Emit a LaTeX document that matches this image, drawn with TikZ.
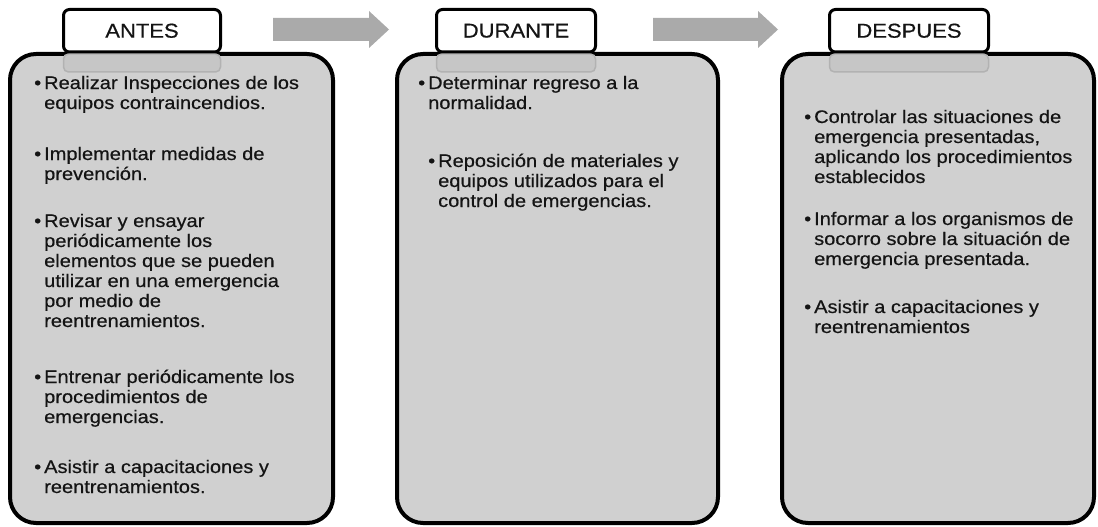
\documentclass[tikz,border=0pt]{standalone}
\usepackage{fontspec}
\setmainfont{Liberation Sans}[FakeStretch=1.1,FakeBold=0.5]
\definecolor{boxgray}{HTML}{D0D0D0}
\definecolor{arrowgray}{HTML}{AAAAAA}
\definecolor{tabshadefill}{HTML}{C6C6C6}
\definecolor{tabedge}{HTML}{B2B2B2}
\definecolor{txt}{HTML}{141414}
\newcommand{\bodyfont}{\fontsize{18.2}{20}\selectfont}
\newcommand{\titlefont}{\fontsize{20}{22}\selectfont}
\newcommand{\itm}[1]{\begin{tabular}[t]{@{}l@{}}\llap{\textbullet\hspace{3pt}}#1\end{tabular}}
\begin{document}
\begin{tikzpicture}[x=1pt,y=-1pt,
  phasebox/.style={draw=black,line width=4pt,fill=boxgray,rounded corners=26pt,inner sep=0pt},
  tabbox/.style={draw=black,line width=3pt,fill=white,rounded corners=6pt,inner sep=0pt,font=\titlefont,text=txt},
  tabshade/.style={draw=tabedge,line width=1.5pt,fill=tabshadefill,rounded corners=5pt,inner sep=0pt},
  flowarrow/.style={fill=arrowgray},
  itemtext/.style={anchor=base west,inner sep=0pt,font=\bodyfont,text=txt}]
\useasboundingbox (0,0) rectangle (1098,527);
% boxes
\node[phasebox,minimum width=323pt,minimum height=469pt] (b1) at (171.5,288.5) {};
\node[phasebox,minimum width=321pt,minimum height=469pt] (b2) at (557.5,288.5) {};
\node[phasebox,minimum width=312pt,minimum height=469pt] (b3) at (938,288.5) {};
% tab shades inside boxes
\node[tabshade,minimum width=157pt,minimum height=18pt] (s1) at (142,63) {};
\node[tabshade,minimum width=159pt,minimum height=18pt] (s2) at (516,63) {};
\node[tabshade,minimum width=159pt,minimum height=18pt] (s3) at (909,63) {};
% tabs
\node[tabbox,minimum width=157pt,minimum height=42.5pt] (t1) at (142,30.75) {ANTES};
\node[tabbox,minimum width=159pt,minimum height=42.5pt] (t2) at (516,30.75) {DURANTE};
\node[tabbox,minimum width=159pt,minimum height=42.5pt] (t3) at (909,30.75) {DESPUES};
% arrows
\fill[flowarrow] (273,18) -- (369,18) -- (369,11) -- (389,29.5) -- (369,48) -- (369,41) -- (273,41) -- cycle;
\fill[flowarrow] (653,18) -- (758,18) -- (758,11) -- (778,29.5) -- (758,48) -- (758,41) -- (653,41) -- cycle;
% box 1 text
\node[itemtext] (p11) at (44,89) {\itm{Realizar Inspecciones de los\\equipos contraincendios.}};
\node[itemtext] (p12) at (44,160) {\itm{Implementar medidas de\\prevención.}};
\node[itemtext] (p13) at (44,227) {\itm{Revisar y ensayar\\periódicamente los\\elementos que se pueden\\utilizar en una emergencia\\por medio de\\reentrenamientos.}};
\node[itemtext] (p14) at (44,383) {\itm{Entrenar periódicamente los\\procedimientos de\\emergencias.}};
\node[itemtext] (p15) at (44,473) {\itm{Asistir a capacitaciones y\\reentrenamientos.}};
% box 2 text
\node[itemtext] (p21) at (428,89) {\itm{Determinar regreso a la\\normalidad.}};
\node[itemtext] (p22) at (438,167) {\itm{Reposición de materiales y\\equipos utilizados para el\\control de emergencias.}};
% box 3 text
\node[itemtext] (p31) at (814,123) {\itm{Controlar las situaciones de\\emergencia presentadas,\\aplicando los procedimientos\\establecidos}};
\node[itemtext] (p32) at (814,225) {\itm{Informar a los organismos de\\socorro sobre la situación de\\emergencia presentada.}};
\node[itemtext] (p33) at (814,313) {\itm{Asistir a capacitaciones y\\reentrenamientos}};
\end{tikzpicture}
\end{document}
